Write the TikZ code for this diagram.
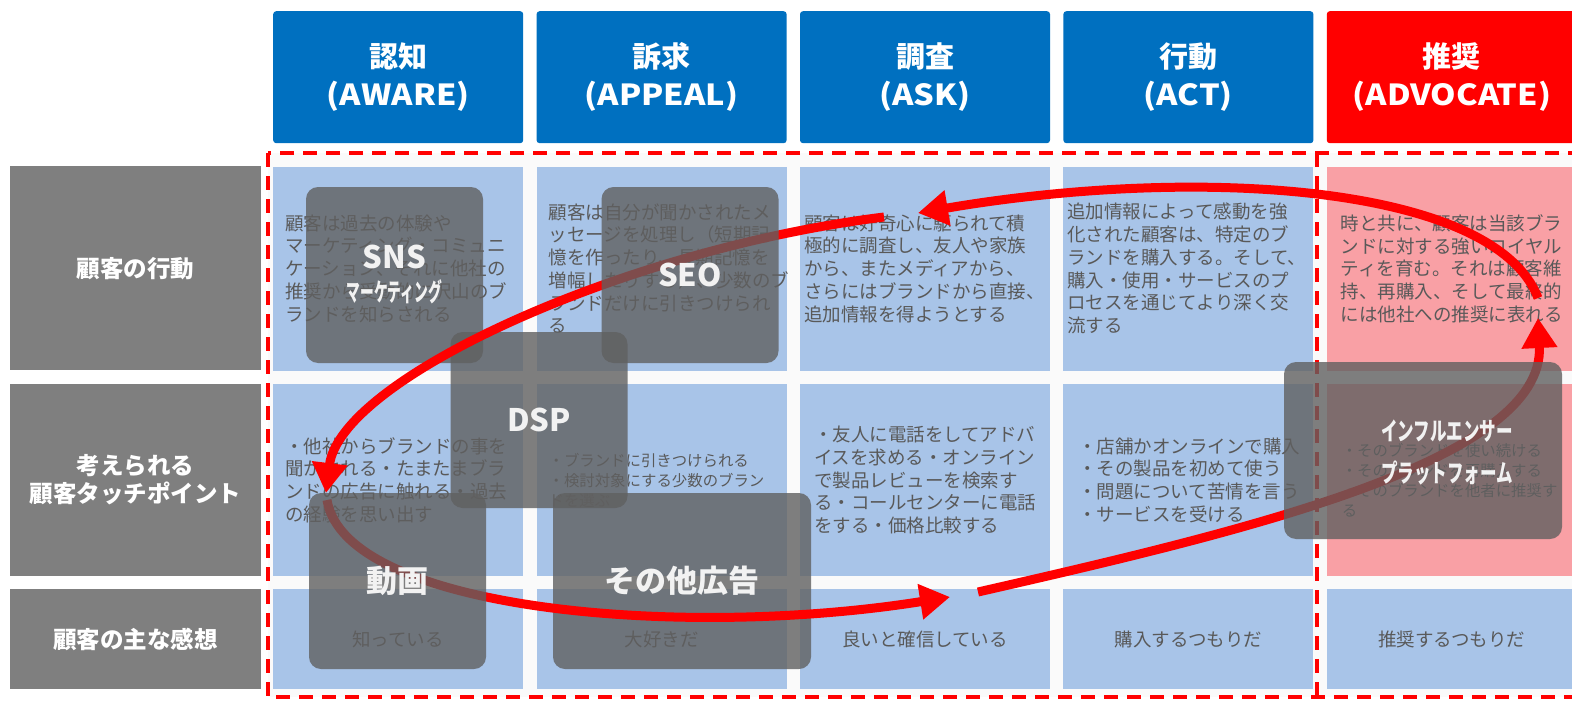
\documentclass[tikz,border=0pt]{standalone}
\usepackage{fontspec}
\setmainfont{Noto Sans CJK JP}
\usetikzlibrary{positioning,arrows.meta}
\definecolor{hdrblue}{RGB}{0,112,192}
\definecolor{advred}{RGB}{255,0,0}
\definecolor{lblgray}{RGB}{127,127,127}
\definecolor{cellblue}{RGB}{168,196,232}
\definecolor{cellpink}{RGB}{249,160,165}
\definecolor{txtgray}{RGB}{89,89,89}
\definecolor{ovlgray}{RGB}{96,96,96}
\definecolor{ovltext}{RGB}{242,242,242}
\newcommand{\wide}[1]{\scalebox{1.12}[1]{#1}}
\tikzset{hdr/.style={fill=hdrblue,rounded corners=3pt,minimum width=250pt,minimum height=132pt,inner sep=0pt,text=white,align=center,font=\fontsize{29}{38}\selectfont\bfseries}}
\tikzset{advhdr/.style={hdr,fill=advred}}
\tikzset{rowlbl/.style={fill=lblgray,minimum width=251pt,inner sep=0pt,text=white,align=center,font=\fontsize{23.5}{28.5}\selectfont\bfseries}}
\tikzset{cell/.style={fill=cellblue,minimum width=250pt,inner sep=0pt}}
\tikzset{txt/.style={anchor=west,inner sep=0pt,align=left,text=txtgray,font=\fontsize{18.5}{22.7}\selectfont}}
\tikzset{smalltxt/.style={txt,font=\fontsize{15.4}{20}\selectfont}}
\tikzset{ovl/.style={fill=ovlgray,fill opacity=0.8,text opacity=1,rounded corners=12pt,minimum width=177pt,minimum height=176pt,inner sep=0pt,text=ovltext,align=center,font=\fontsize{31}{36}\selectfont\bfseries}}
\tikzset{ovllbl/.style={inner sep=0pt,text=ovltext,font=\fontsize{25}{30}\selectfont\bfseries}}
\tikzset{journey/.style={advred,line width=9pt,-{Triangle[length=30pt 0,width=34pt 0]}}}
\tikzset{frame/.style={advred,line width=4pt,dash pattern=on 14pt off 9pt}}

\begin{document}
\begin{tikzpicture}[x=1pt,y=-1pt]
    \useasboundingbox (0,0) rectangle (1572,701);
    \clip (0,0) rectangle (1572,701);
    \fill[white] (0,0) rectangle (1572,701);
    \fill[black!2] (268,153) rectangle (1572,697);
    % stage headers
    \node[hdr,anchor=north west] (aware) at (273,11) {認知\\\wide{(AWARE)}};
    \node[hdr,right=13pt of aware] (appeal) {訴求\\\wide{(APPEAL)}};
    \node[hdr,right=13pt of appeal] (ask) {調査\\\wide{(ASK)}};
    \node[hdr,right=13pt of ask] (act) {行動\\\wide{(ACT)}};
    \node[advhdr,right=13pt of act] (advocate) {推奨\\\wide{(ADVOCATE)}};
    % row labels
    \node[rowlbl,minimum height=204pt,anchor=north west] (behav) at (10,166) {顧客の行動};
    \node[rowlbl,minimum height=192pt,below=13pt of behav] (touch) {考えられる\\顧客タッチポイント};
    \node[rowlbl,minimum height=100pt,below=13pt of touch] (feel) {顧客の主な感想};
    % cells
    \node[cell,minimum height=204pt,below=23pt of aware] (b1) {};
    \node[cell,minimum height=192pt,below=13pt of b1] (m1) {};
    \node[cell,minimum height=100pt,below=13pt of m1] (f1) {};
    \node[cell,minimum height=204pt,below=23pt of appeal] (b2) {};
    \node[cell,minimum height=192pt,below=13pt of b2] (m2) {};
    \node[cell,minimum height=100pt,below=13pt of m2] (f2) {};
    \node[cell,minimum height=204pt,below=23pt of ask] (b3) {};
    \node[cell,minimum height=192pt,below=13pt of b3] (m3) {};
    \node[cell,minimum height=100pt,below=13pt of m3] (f3) {};
    \node[cell,minimum height=204pt,below=23pt of act] (b4) {};
    \node[cell,minimum height=192pt,below=13pt of b4] (m4) {};
    \node[cell,minimum height=100pt,below=13pt of m4] (f4) {};
    \node[cell,fill=cellpink,minimum height=204pt,below=23pt of advocate] (b5) {};
    \node[cell,fill=cellpink,minimum height=192pt,below=13pt of b5] (m5) {};
    \node[cell,minimum height=100pt,below=13pt of m5] (f5) {};
    % dashed frames
    \draw[frame] (268,153) rectangle (1600,697);
    \draw[frame] (1317,153) -- (1317,697);
    % cell texts
    \node[txt] (tb1) at ([xshift=12pt]b1.west) {顧客は過去の体験や\\マーケティング・コミュニ\\ケーション、それに他社の\\推奨から受動的に沢山のブ\\ランドを知らされる};
    \node[txt] (tb2) at ([xshift=12pt]b2.west) {顧客は自分が聞かされたメ\\ッセージを処理し（短期記\\憶を作ったり、長期記憶を\\増幅したりする）、少数のブ\\ランドだけに引きつけられ\\る};
    \node[txt] (tb3) at ([xshift=4pt]b3.west) {顧客は好奇心に駆られて積\\極的に調査し、友人や家族\\から、またメディアから、\\さらにはブランドから直接、\\追加情報を得ようとする};
    \node[txt] (tb4) at ([xshift=4pt]b4.west) {追加情報によって感動を強\\化された顧客は、特定のブ\\ランドを購入する。そして、\\購入・使用・サービスのプ\\ロセスを通じてより深く交\\流する};
    \node[txt] (tb5) at ([xshift=14pt]b5.west) {時と共に、顧客は当該ブラ\\ンドに対する強いロイヤル\\ティを育む。それは顧客維\\持、再購入、そして最終的\\には他社への推奨に表れる};
    \node[txt] (tm1) at ([xshift=12pt]m1.west) {・他社からブランドの事を\\聞かされる・たまたまブラ\\ンドの広告に触れる・過去\\の経験を思い出す};
    \node[smalltxt] (tm2) at ([xshift=12pt]m2.west) {・ブランドに引きつけられる\\・検討対象にする少数のブラン\\ドを選ぶ};
    \node[txt] (tm3) at ([xshift=14pt]m3.west) {・友人に電話をしてアドバ\\イスを求める・オンライン\\で製品レビューを検索す\\る・コールセンターに電話\\をする・価格比較する};
    \node[txt] (tm4) at ([xshift=15pt]m4.west) {・店舗かオンラインで購入\\・その製品を初めて使う\\・問題について苦情を言う\\・サービスを受ける};
    \node[smalltxt] (tm5) at ([xshift=15pt]m5.west) {・そのブランドを使い続ける\\・そのブランドを再購入する\\・そのブランドを他者に推奨す\\る};
    \node[txt,anchor=center] (tf1) at (f1) {知っている};
    \node[txt,anchor=center] (tf2) at (f2) {大好きだ};
    \node[txt,anchor=center] (tf3) at (f3) {良いと確信している};
    \node[txt,anchor=center] (tf4) at (f4) {購入するつもりだ};
    \node[txt,anchor=center] (tf5) at (f5) {推奨するつもりだ};
    % channels under the loop
    \node[ovl] (dsp) at (539,420) {DSP};
    \node[ovl] (sns) at (394.5,275) {};
    \node[ovllbl,font=\fontsize{31}{36}\selectfont\bfseries] (snslbl) at ([yshift=18pt]sns.center) {SNS};
    \node[ovllbl] (mktlbl) at ([yshift=-17pt]sns.center) {\scalebox{0.55}[1]{マーケティング}};
    \node[ovl,minimum width=258pt] (other) at (682,581) {その他広告};
    % customer loop
    \coordinate (a1s) at (884,217);
    \coordinate (a1e) at (326,493);
    \coordinate (a2s) at (327,500);
    \coordinate (a2e) at (950,597);
    \coordinate (a3s) at (978,592);
    \coordinate (a3e) at (1538,318);
    \coordinate (a4s) at (1538,298);
    \coordinate (a4e) at (918,213);
    \draw[journey] (a1s) .. controls (620,250) and (340,380) .. (a1e);
    \draw[journey] (a2s) .. controls (345,610) and (680,640) .. (a2e);
    \draw[journey] (a3s) .. controls (1250,530) and (1545,460) .. (a3e);
    \draw[journey] (a4s) .. controls (1495,185) and (1200,165) .. (a4e);
    % channels over the loop
    \node[ovl] (seo) at (690,275) {SEO};
    \node[ovl] (video) at (397.5,581) {動画};
    \node[ovl,minimum width=278pt,minimum height=177pt] (infl) at (1423,450.5) {};
    \node[ovllbl] (infl1) at ([xshift=24pt,yshift=19pt]infl.center) {\scalebox{0.66}[1]{インフルエンサー}};
    \node[ovllbl] (infl2) at ([xshift=24pt,yshift=-22pt]infl.center) {\scalebox{0.66}[1]{プラットフォーム}};
\end{tikzpicture}
\end{document}
